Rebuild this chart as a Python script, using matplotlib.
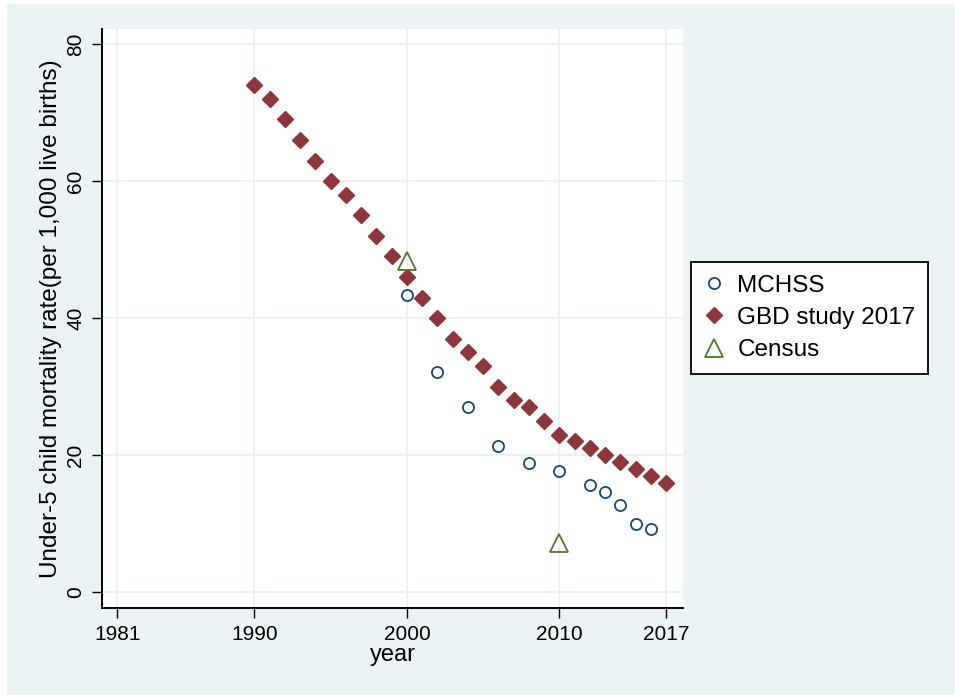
import matplotlib.pyplot as plt
from matplotlib.patches import Rectangle

plt.rcParams['font.family'] = ['Liberation Sans', 'DejaVu Sans']

# GBD study 2017 estimates, every year
gbd_years = list(range(1990, 2018))
gbd_rate = [74, 72, 69, 66, 63, 60, 58, 55, 52, 49, 46, 43, 40, 37, 35,
            33, 30, 28, 27, 25, 23, 22, 21, 20, 19, 18, 17, 16]

# MCHSS surveillance
mchss_years = [2000, 2002, 2004, 2006, 2008, 2010, 2012, 2013, 2014, 2015, 2016]
mchss_rate = [43.4, 32.1, 27.1, 21.3, 18.8, 17.7, 15.6, 14.6, 12.7, 9.9, 9.3]

# census
census_years = [2000, 2010]
census_rate = [48.3, 7.2]

xticks = [1981, 1990, 2000, 2010, 2017]
yticks = [0, 20, 40, 60, 80]

bg = '#EAF2F3'
navy = '#1A476F'
maroon = '#90353B'
green = '#55752F'

fig = plt.figure(figsize=(9.55, 6.95), dpi=100, facecolor='white')
fig.patches.append(Rectangle((7 / 955, 0), 948 / 955, 691 / 695,
                             transform=fig.transFigure, facecolor=bg,
                             edgecolor='none', zorder=-10))

ax = fig.add_axes([102 / 955, 87 / 695, 581 / 955, 579 / 695])
ax.set_facecolor('white')

ax.plot(mchss_years, mchss_rate, 'o', ms=8, mfc='none', mec=navy, mew=1.3,
        label='MCHSS', zorder=3)
ax.plot(gbd_years, gbd_rate, 'D', ms=8.3, color=maroon, mec=maroon,
        label='GBD study 2017', zorder=3)
ax.plot(census_years, census_rate, '^', ms=13, mfc='none', mec=green, mew=1.3,
        label='Census', zorder=3)

ax.set_xlim(1980, 2018.1)
ax.set_ylim(-2.3, 82.2)
ax.set_xticks(xticks)
ax.set_yticks(yticks)
ax.grid(True, color=bg, lw=1.4)
ax.set_axisbelow(True)

for s in ['top', 'right']:
    ax.spines[s].set_visible(False)
for s in ['left', 'bottom']:
    ax.spines[s].set_linewidth(1.4)

ax.tick_params(length=7, width=1, labelsize=15, pad=5)
ax.tick_params(axis='y', labelrotation=90)
for lab in ax.get_yticklabels():
    lab.set_va('center')

ax.set_xlabel('year', fontsize=17, labelpad=0)
ax.set_ylabel('Under-5 child mortality rate(per 1,000 live births)',
              fontsize=17.5, labelpad=3)

leg = fig.legend(loc='center', bbox_to_anchor=(809.5 / 955, 1 - 318 / 695),
                 fontsize=17.5, frameon=True, fancybox=False,
                 handlelength=0.9, handletextpad=0.5, labelspacing=0.43,
                 borderpad=0.52)
leg.get_frame().set_edgecolor('black')
leg.get_frame().set_linewidth(1.3)
leg.get_frame().set_alpha(None)

fig.savefig('out.png', dpi=100, facecolor=fig.get_facecolor())
